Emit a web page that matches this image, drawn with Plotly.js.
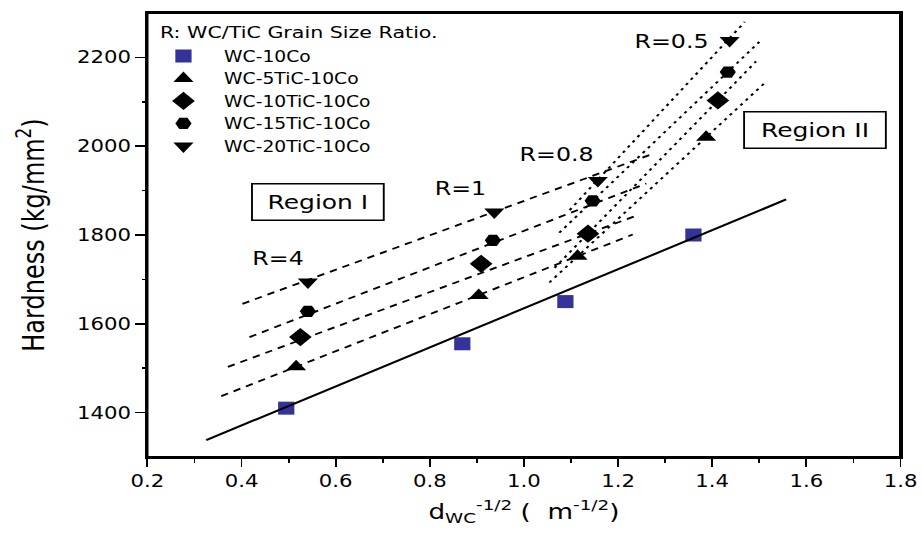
<!DOCTYPE html>
<html>
<head>
<meta charset="utf-8">
<script src="https://cdn.plot.ly/plotly-3.0.1.min.js"></script>
<style>
  html, body { margin: 0; padding: 0; background: #fff; }
  #wrap { width: 923px; height: 543px; overflow: hidden; position: relative; }
  #plot { width: 739px; height: 543px; transform: scaleX(1.249); transform-origin: 0 0; }
  #frame { position: absolute; left: 146.4px; top: 12px; width: 755.1px; height: 446px;
           box-sizing: border-box; border: 2px solid #000; pointer-events: none; z-index: 10; }
</style>
</head>
<body>
<div id="wrap"><div id="plot"></div><div id="frame"></div></div>
<script>
// ---- data ----
const seriesNames = ['WC-10Co', 'WC-5TiC-10Co', 'WC-10TiC-10Co', 'WC-15TiC-10Co', 'WC-20TiC-10Co'];

const xWC   = [0.495, 0.869, 1.088, 1.360];
const hWC   = [1410, 1555, 1650, 1800];
const x5Ti  = [0.516, 0.904, 1.114, 1.387];
const h5Ti  = [1503, 1664, 1752, 2020];
const x10Ti = [0.525, 0.909, 1.136, 1.412];
const h10Ti = [1570, 1735, 1803, 2103];
const x15Ti = [0.541, 0.934, 1.146, 1.433];
const h15Ti = [1628, 1788, 1877, 2167];
const x20Ti = [0.541, 0.937, 1.157, 1.437];
const h20Ti = [1694, 1852, 1923, 2238];

// fitted lines (end points)
const fitWCx = [0.325, 1.557];
const fitWCy = [1338, 1880];
// Region I (dashed)
const r1x20 = [0.402, 1.277], r1y20 = [1645, 1984];
const r1x15 = [0.417, 1.260], r1y15 = [1570, 1916];
const r1x10 = [0.371, 1.240], r1y10 = [1503, 1844];
const r1x5  = [0.357, 1.231], r1y5  = [1437, 1801];
// Region II (dotted)
const r2x20 = [1.097, 1.469], r2y20 = [1856, 2280];
const r2x15 = [1.075, 1.500], r2y15 = [1805, 2235];
const r2x10 = [1.065, 1.493], r2y10 = [1726, 2191];
const r2x5  = [1.054, 1.511], r2y5  = [1693, 2142];

const xTicks = [0.2, 0.4, 0.6, 0.8, 1.0, 1.2, 1.4, 1.6, 1.8];
const xTickText = ['0.2', '0.4', '0.6', '0.8', '1.0', '1.2', '1.4', '1.6', '1.8'];
const xMinorTicks = [0.3, 0.5, 0.7, 0.9, 1.1, 1.3, 1.5, 1.7];
const yTicks = [1400, 1600, 1800, 2000, 2200];
const yMinorTicks = [1500, 1700, 1900, 2100];

const legendHeader = 'R: WC/TiC Grain Size Ratio.';
const ratioLabels = ['R=4', 'R=1', 'R=0.8', 'R=0.5'];
const regionLabels = ['Region I', 'Region II'];

// ---- traces ----
function fit(x, y, dash, w, xa, ya) {
  return { x: x, y: y, mode: 'lines', type: 'scatter', showlegend: false, hoverinfo: 'skip',
           xaxis: xa || 'x', yaxis: ya || 'y',
           line: { color: '#000', width: w, dash: dash } };
}
const dashI = '6px,5px';
const dotII = '2.5px,4px';

const traces = [
  fit(fitWCx, fitWCy, 'solid', 2, 'x2', 'y'),
  fit(r1x20, r1y20, dashI, 1.8, 'x', 'y2'), fit(r1x15, r1y15, dashI, 1.8),
  fit(r1x10, r1y10, dashI, 1.8), fit(r1x5, r1y5, dashI, 1.8),
  fit(r2x20, r2y20, dotII, 1.8), fit(r2x15, r2y15, dotII, 1.8),
  fit(r2x10, r2y10, dotII, 1.8), fit(r2x5, r2y5, dotII, 1.8),
  { x: xWC, y: hWC, name: seriesNames[0], mode: 'markers', type: 'scatter',
    marker: { symbol: 'square', size: 13, color: '#333399' } },
  { x: x5Ti, y: h5Ti, name: seriesNames[1], mode: 'markers', type: 'scatter',
    marker: { symbol: 'triangle-up', size: 14, color: '#000' } },
  { x: x10Ti, y: h10Ti, name: seriesNames[2], mode: 'markers', type: 'scatter',
    marker: { symbol: 'diamond', size: 14, color: '#000' } },
  { x: x15Ti, y: h15Ti, name: seriesNames[3], mode: 'markers', type: 'scatter',
    marker: { symbol: 'hexagon2', size: 13, color: '#000' } },
  { x: x20Ti, y: h20Ti, name: seriesNames[4], mode: 'markers', type: 'scatter',
    marker: { symbol: 'triangle-down', size: 14, color: '#000' } }
];

const FAM = 'DejaVu Sans, sans-serif';
const annFont = { family: FAM, size: 19, color: '#000' };
const regFont = { family: FAM, size: 20, color: '#000' };
const xRange = [0.2, 1.8];
const yRange = [1300, 2300];

const layout = {
  width: 739, height: 543,
  margin: { l: 118, r: 18, t: 13, b: 86, pad: 0 },
  font: { family: FAM, size: 17, color: '#000' },
  showlegend: true,
  xaxis: {
    range: xRange, tickvals: xTicks, ticktext: xTickText,
    showgrid: false, zeroline: false, showline: true, mirror: true,
    linecolor: '#000', linewidth: 1.8,
    ticks: 'outside', ticklen: 8, tickwidth: 1.5, tickcolor: '#000',
    tickfont: { size: 17 },
    title: { text: 'd<sub>WC</sub><sup>-1/2</sup> (  m<sup>-1/2</sup>)', font: { size: 21 }, standoff: 14 }
  },
  xaxis2: {
    overlaying: 'x', anchor: 'y', side: 'bottom', range: xRange, tickvals: xMinorTicks,
    showticklabels: false, showgrid: false, zeroline: false, showline: false,
    ticks: 'outside', ticklen: 5, tickwidth: 1.5, tickcolor: '#000'
  },
  yaxis: {
    range: yRange, tickvals: yTicks,
    showgrid: false, zeroline: false, showline: true, mirror: true,
    linecolor: '#000', linewidth: 1.8,
    ticks: 'outside', ticklen: 8, tickwidth: 1.5, tickcolor: '#000',
    tickfont: { size: 17 },
    title: { text: 'Hardness (kg/mm<sup>2</sup>)', font: { size: 24 }, standoff: 19 }
  },
  yaxis2: {
    overlaying: 'y', anchor: 'x', side: 'left', range: yRange, tickvals: yMinorTicks,
    showticklabels: false, showgrid: false, zeroline: false, showline: false,
    ticks: 'outside', ticklen: 3, tickwidth: 1.5, tickcolor: '#000'
  },
  legend: {
    x: -0.006, y: 0.94, xanchor: 'left', yanchor: 'top',
    bgcolor: 'rgba(0,0,0,0)', borderwidth: 0,
    font: { size: 15 }, itemwidth: 55, tracegroupgap: 0
  },
  shapes: [
    { type: 'rect', xref: 'paper', yref: 'paper', x0: 0, x1: 1, y0: 0, y1: 1,
      line: { color: '#000', width: 1.8 }, layer: 'above' }
  ],
  annotations: [
    { xref: 'paper', yref: 'paper', x: 0.013, y: 0.955, xanchor: 'left', yanchor: 'middle',
      text: legendHeader, showarrow: false, font: { family: FAM, size: 16.5, color: '#000' } }
  ].concat([
    { x: 0.476, y: 1748, text: ratioLabels[0] },
    { x: 0.865, y: 1905, text: ratioLabels[1] },
    { x: 1.069, y: 1982, text: ratioLabels[2] },
    { x: 1.313, y: 2238, text: ratioLabels[3] }
  ].map(a => Object.assign({ xref: 'x', yref: 'y', showarrow: false, font: annFont }, a))).concat([
    { x: 0.561, y: 1875, text: regionLabels[0], width: 100, height: 31 },
    { x: 1.617, y: 2037, text: regionLabels[1], width: 108, height: 31 }
  ].map(a => Object.assign({ xref: 'x', yref: 'y', showarrow: false, font: regFont,
       bordercolor: '#000', borderwidth: 1.5, borderpad: 2, bgcolor: '#fff' }, a)))
};

Plotly.newPlot('plot', traces, layout, { displayModeBar: false, staticPlot: true });
</script>
</body>
</html>
